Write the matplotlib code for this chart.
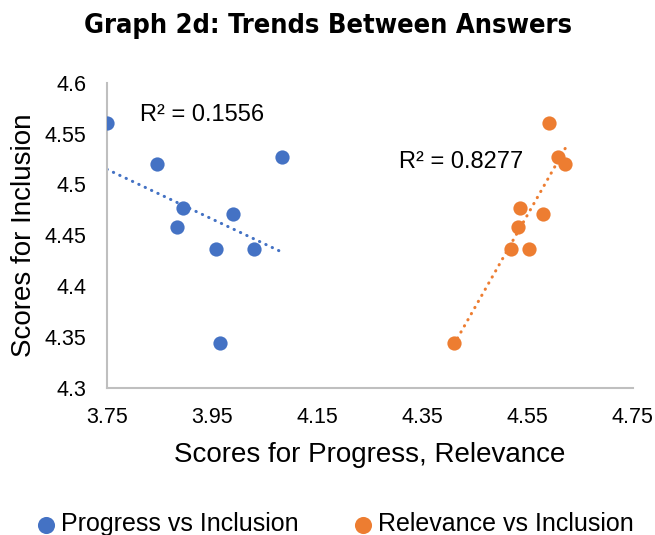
import numpy as np
import matplotlib.pyplot as plt

# scores
inclusion = [4.560, 4.520, 4.527, 4.477, 4.458, 4.471, 4.437, 4.437, 4.344]
progress = [3.750, 3.846, 4.082, 3.895, 3.884, 3.990, 3.958, 4.029, 3.964]
relevance = [4.590, 4.622, 4.608, 4.536, 4.532, 4.579, 4.518, 4.553, 4.410]

blue = '#4472C4'
orange = '#ED7D31'

plt.rcParams['font.family'] = ['Liberation Sans', 'DejaVu Sans']

fig = plt.figure(figsize=(6.55, 5.35), dpi=100)
ax = fig.add_axes([0.1634, 0.2748, 0.8026, 0.5706])

ax.scatter(progress, inclusion, s=105, color=blue, zorder=3, linewidths=0, label='Progress vs Inclusion')
ax.scatter(relevance, inclusion, s=105, color=orange, zorder=3, linewidths=0, label='Relevance vs Inclusion')

# linear trendlines over each series' range
for xs, c in [(progress, blue), (relevance, orange)]:
    m, b = np.polyfit(xs, inclusion, 1)
    xx = np.array([min(xs), max(xs)])
    ax.plot(xx, m * xx + b, color=c, lw=2.2, linestyle=(0, (0.1, 2.2)),
            dash_capstyle='round', zorder=2)

ax.text(3.812, 4.568, 'R² = 0.1556', fontsize=17, va='center', ha='left')
ax.text(4.305, 4.522, 'R² = 0.8277', fontsize=17, va='center', ha='left')

ax.set_xlim(3.75, 4.75)
ax.set_ylim(4.3, 4.6)
ax.set_xticks([3.75, 3.95, 4.15, 4.35, 4.55, 4.75])
ax.set_xticklabels(['3.75', '3.95', '4.15', '4.35', '4.55', '4.75'])
ax.set_yticks([4.3, 4.35, 4.4, 4.45, 4.5, 4.55, 4.6])
ax.set_yticklabels(['4.3', '4.35', '4.4', '4.45', '4.5', '4.55', '4.6'])
ax.tick_params(axis='x', length=0, labelsize=15.5, pad=14)
ax.tick_params(axis='y', length=0, labelsize=15.5, pad=15)
for s in ['top', 'right']:
    ax.spines[s].set_visible(False)
for s in ['left', 'bottom']:
    ax.spines[s].set_color('#BFBFBF')
    ax.spines[s].set_linewidth(1.5)

ax.set_xlabel('Scores for Progress, Relevance', fontsize=20, labelpad=10)
ax.set_ylabel('Scores for Inclusion', fontsize=20, labelpad=5)

fig.text(0.5, 0.951, 'Graph 2d: Trends Between Answers', ha='center', va='center',
         fontsize=19.5, fontweight='bold', fontstretch='condensed',
         family=['DejaVu Sans'])

fig.legend(loc='center', bbox_to_anchor=(0.5, 0.02), ncol=2, frameon=False,
           fontsize=18, handletextpad=-0.4, columnspacing=1.6, markerscale=1.2)

fig.savefig('out.png', dpi=100)
